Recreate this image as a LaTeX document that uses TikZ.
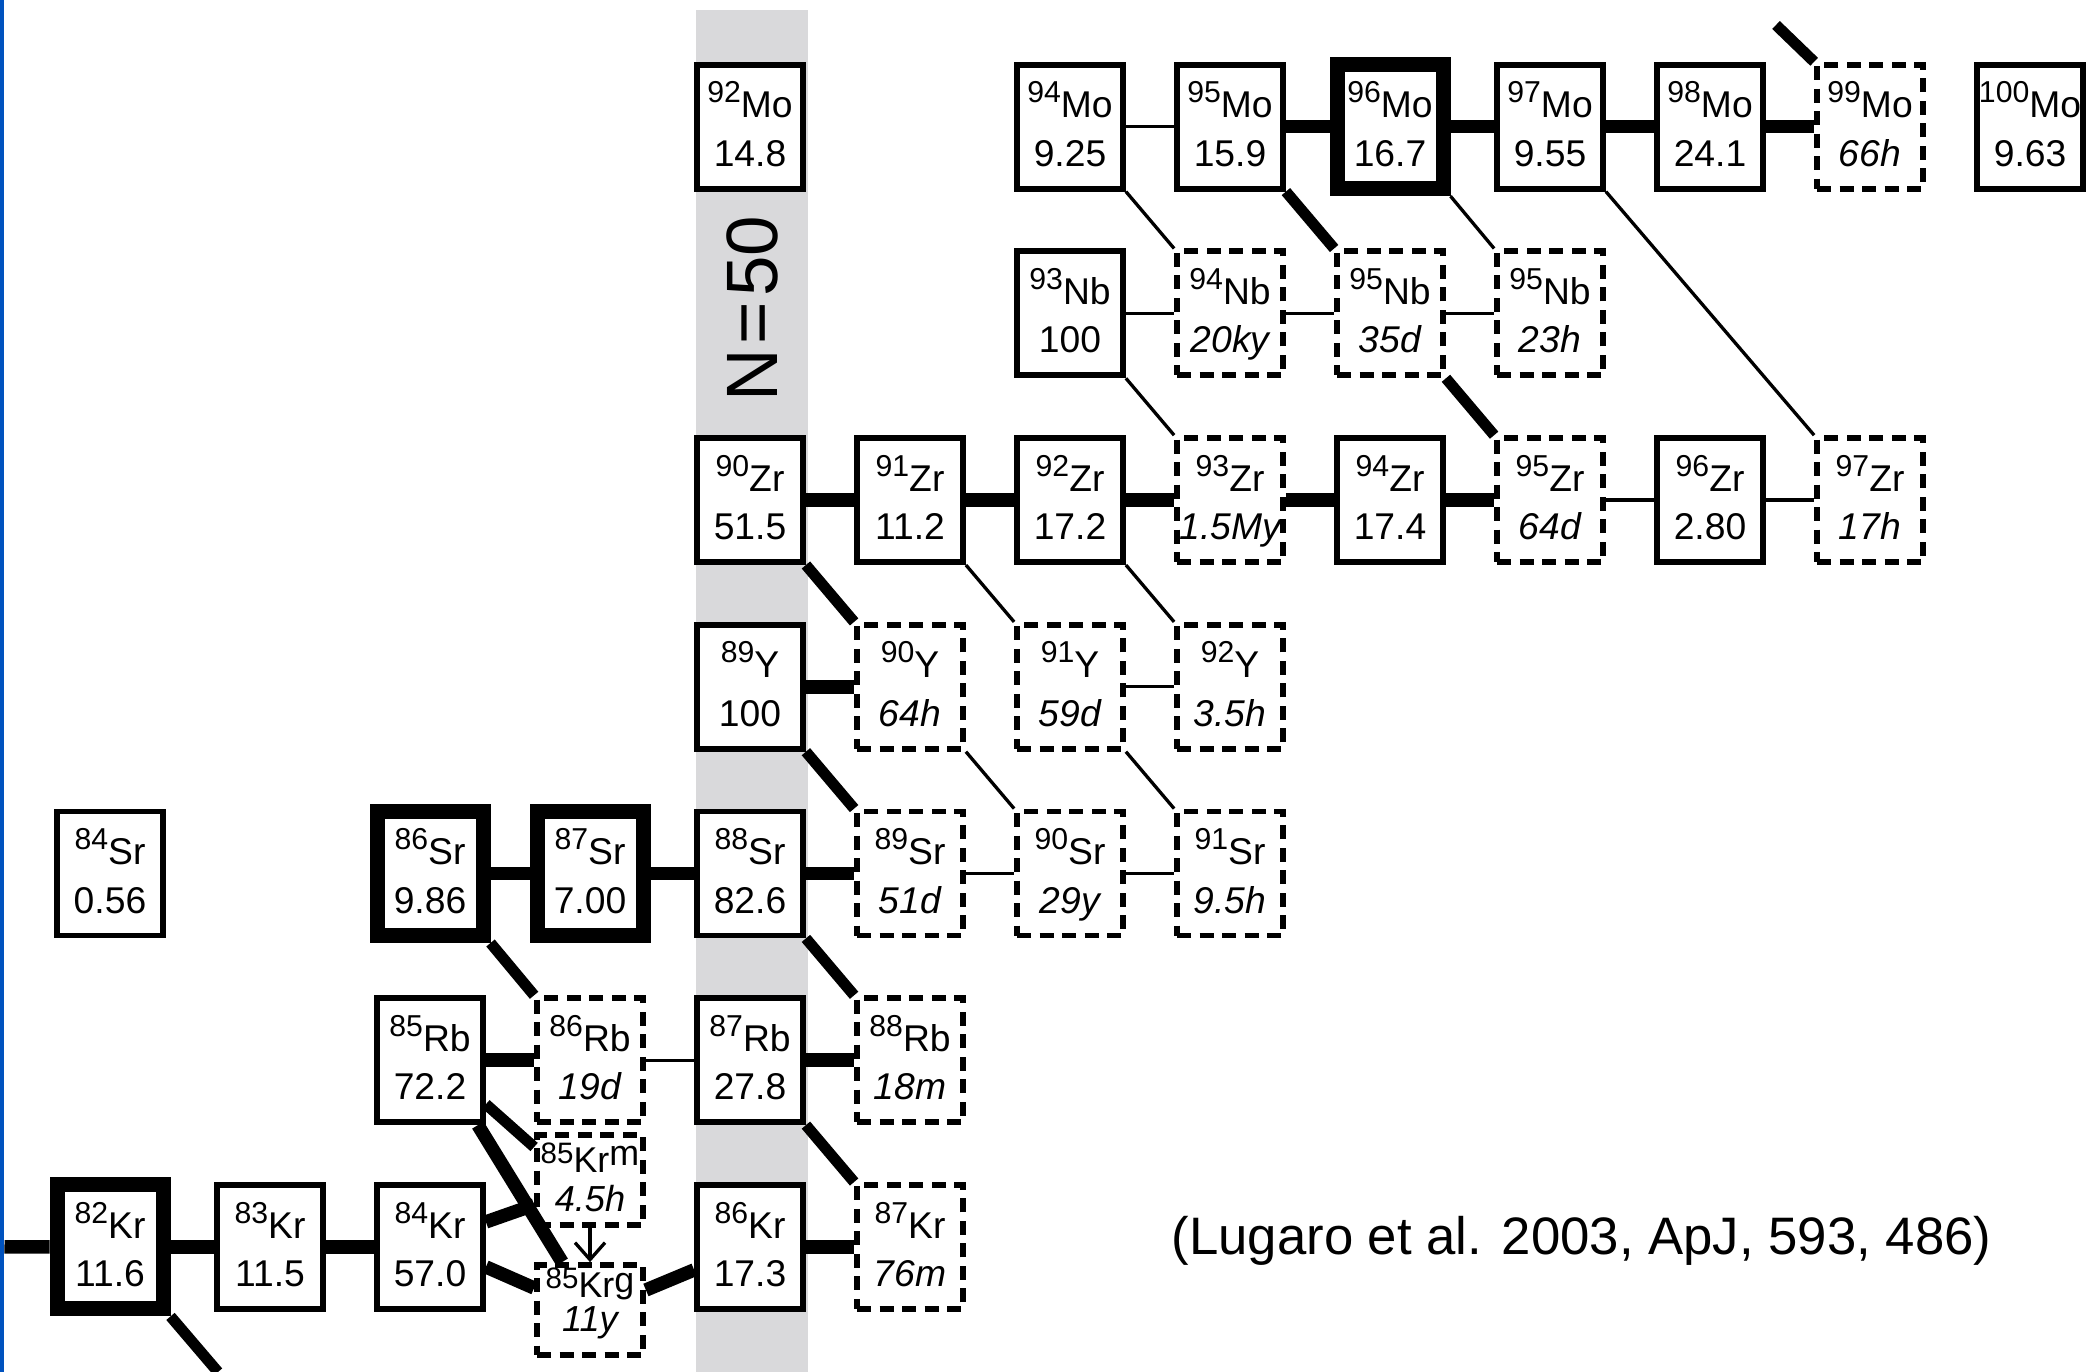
\documentclass[tikz,border=0pt]{standalone}
\usepackage{fontspec}
\setmainfont{Liberation Sans}
\usetikzlibrary{arrows.meta}
\definecolor{bandgray}{RGB}{217,217,219}
\definecolor{slideblue}{RGB}{0,82,190}
\newcommand{\nucfont}{\fontsize{10.6}{12}\selectfont}
\newcommand{\massno}[1]{\raisebox{0.15cm}{\fontsize{8.6}{9}\selectfont #1}}
\newcommand{\smallmass}[1]{\raisebox{0.09cm}{\fontsize{8.4}{9}\selectfont #1}}
\tikzset{
  nucbox/.style={draw, fill=white, line width=0.058cm, minimum width=1.06cm, minimum height=1.24cm, inner sep=0pt},
  stable/.style={nucbox},
  sonly/.style={nucbox, line width=0.15cm},
  unstable/.style={nucbox, dash pattern=on 0.14cm off 0.085cm},
  stable-val/.style={font=\nucfont},
  sonly-val/.style={font=\nucfont},
  unstable-val/.style={font=\nucfont\itshape},
  sflow/.style={line width=0.135cm},
  branch/.style={line width=0.11cm},
  weak/.style={line width=0.033cm},
}

\begin{document}
\begin{tikzpicture}
  \useasboundingbox (0,0) rectangle (20.88,-13.72);
  \draw[slideblue, line width=0.035cm] (0.0175,0) -- (0.0175,-13.72);
  % N=50 column
  \fill[bandgray] (6.955,-0.10) rectangle (8.077,-13.72);
  \node[rotate=90, font=\fontsize{20.7}{24}\selectfont] (magic) at (7.525,-3.09) {N\kern0.05cm=\kern0.05cm50};
  % column i -> x = 1.10 + 1.6 i ; row j -> y = -(1.267 + 1.867 j)
  \foreach \n/\i/\j/\s/\a/\e/\v in {
     mo92/4/0/stable/92/Mo/14.8, mo94/6/0/stable/94/Mo/9.25, mo95/7/0/stable/95/Mo/15.9,
     mo96/8/0/sonly/96/Mo/16.7, mo97/9/0/stable/97/Mo/9.55, mo98/10/0/stable/98/Mo/24.1,
     mo99/11/0/unstable/99/Mo/66h, mo100/12/0/stable/100/Mo/9.63,
     nb93/6/1/stable/93/Nb/100, nb94/7/1/unstable/94/Nb/20ky, nb95/8/1/unstable/95/Nb/35d,
     nb96/9/1/unstable/95/Nb/23h,
     zr90/4/2/stable/90/Zr/51.5, zr91/5/2/stable/91/Zr/11.2, zr92/6/2/stable/92/Zr/17.2,
     zr93/7/2/unstable/93/Zr/1.5My, zr94/8/2/stable/94/Zr/17.4, zr95/9/2/unstable/95/Zr/64d,
     zr96/10/2/stable/96/Zr/2.80, zr97/11/2/unstable/97/Zr/17h,
     y89/4/3/stable/89/Y/100, y90/5/3/unstable/90/Y/64h, y91/6/3/unstable/91/Y/59d,
     y92/7/3/unstable/92/Y/3.5h,
     sr84/0/4/stable/84/Sr/0.56, sr86/2/4/sonly/86/Sr/9.86, sr87/3/4/sonly/87/Sr/7.00,
     sr88/4/4/stable/88/Sr/82.6, sr89/5/4/unstable/89/Sr/51d, sr90/6/4/unstable/90/Sr/29y,
     sr91/7/4/unstable/91/Sr/9.5h,
     rb85/2/5/stable/85/Rb/72.2, rb86/3/5/unstable/86/Rb/19d, rb87/4/5/stable/87/Rb/27.8,
     rb88/5/5/unstable/88/Rb/18m,
     kr82/0/6/sonly/82/Kr/11.6, kr83/1/6/stable/83/Kr/11.5, kr84/2/6/stable/84/Kr/57.0,
     kr86/4/6/stable/86/Kr/17.3, kr87/5/6/unstable/87/Kr/76m} {
     \node[\s] (\n) at ({1.10+1.6*\i},{-1.267-1.867*\j}) {};
     \node[font=\nucfont, anchor=base, inner sep=0pt] (\n-el) at ([yshift=0.089cm]\n.center) {\massno{\a}\e};
     \node[\s-val, anchor=base, inner sep=0pt] (\n-ab) at ([yshift=-0.395cm]\n.center) {\v};
  }
  % the two states of 85Kr share one column
  \node[unstable, minimum height=0.90cm] (krm85) at (5.90,-11.80) {};
  \node[font=\fontsize{10.2}{11}\selectfont, anchor=base, inner sep=0pt] (krm85-el) at ([yshift=0.075cm]krm85.center) {\smallmass{85}Kr\raisebox{0.07cm}{m}};
  \node[font=\fontsize{10.3}{11}\selectfont\itshape, anchor=base, inner sep=0pt] (krm85-ab) at ([yshift=-0.318cm]krm85.center) {4.5h};
  \node[unstable, minimum height=0.90cm] (krg85) at (5.90,-13.10) {};
  \node[font=\fontsize{10.2}{11}\selectfont, anchor=base, inner sep=0pt] (krg85-el) at ([yshift=0.125cm]krg85.center) {\smallmass{85}Kr\raisebox{0.05cm}{g}};
  \node[font=\fontsize{10.3}{11}\selectfont\itshape, anchor=base, inner sep=0pt] (krg85-ab) at ([yshift=-0.21cm]krg85.center) {11y};

  % main s-process path
  \foreach \a/\b in {mo95/mo96, mo96/mo97, mo97/mo98, mo98/mo99, zr90/zr91, zr91/zr92, zr92/zr93,
     zr93/zr94, zr94/zr95, y89/y90, sr86/sr87, sr87/sr88, sr88/sr89, rb85/rb86, rb87/rb88,
     kr82/kr83, kr83/kr84, kr86/kr87} {
     \draw[sflow] (\a.east) -- (\b.west);
  }
  \foreach \a/\b in {mo94/mo95, nb93/nb94, nb94/nb95, nb95/nb96, zr95/zr96, zr96/zr97,
     y91/y92, sr89/sr90, sr90/sr91, rb86/rb87} {
     \draw[weak] (\a.east) -- (\b.west);
  }
  % beta decays
  \foreach \a/\b in {mo95/nb95, nb95/zr95, zr90/y90, y89/sr89, sr88/rb88, sr86/rb86, rb87/kr87} {
     \draw[branch] (\a.south east) -- (\b.north west);
  }
  \foreach \a/\b in {mo94/nb94, mo96/nb96, mo97/zr97, nb93/zr93, zr91/y91, zr92/y92, y90/sr90, y91/sr91} {
     \draw[weak] (\a.south east) -- (\b.north west);
  }
  % edges of the picture
  \coordinate (kr82in) at (0.045,-12.469);
  \coordinate (kr82out) at (2.18,-13.72);
  \coordinate (mo99in) at (17.76,-0.25);
  \draw[sflow] (kr82in) -- (kr82.west);
  \draw[branch] (kr82.south east) -- (kr82out);
  \draw[branch] (mo99in) -- (mo99.north west);
  % branching at 85Kr
  \draw[branch] ([yshift=-0.44cm]rb85.east) -- ([yshift=0.33cm]krm85.west);
  \draw[sflow] ([xshift=-0.08cm]rb85.south east) -- ([xshift=0.28cm]krg85.north west);
  \draw[sflow] ([yshift=0.25cm]kr84.east) -- ([yshift=-0.25cm]krm85.west);
  \draw[sflow] ([yshift=-0.2cm]kr84.east) -- ([yshift=0.22cm]krg85.west);
  \draw[sflow] ([yshift=0.2cm]krg85.east) -- ([yshift=-0.23cm]kr86.west);
  \draw[weak, -{Straight Barb[length=0.17cm, width=0.3cm]}] (krm85.south) -- (krg85.north);

  \node[font=\fontsize{15}{18}\selectfont, anchor=base] (cite) at (15.815,-12.54) {(Lugaro et al. 2003, ApJ, 593, 486)};
\end{tikzpicture}
\end{document}
